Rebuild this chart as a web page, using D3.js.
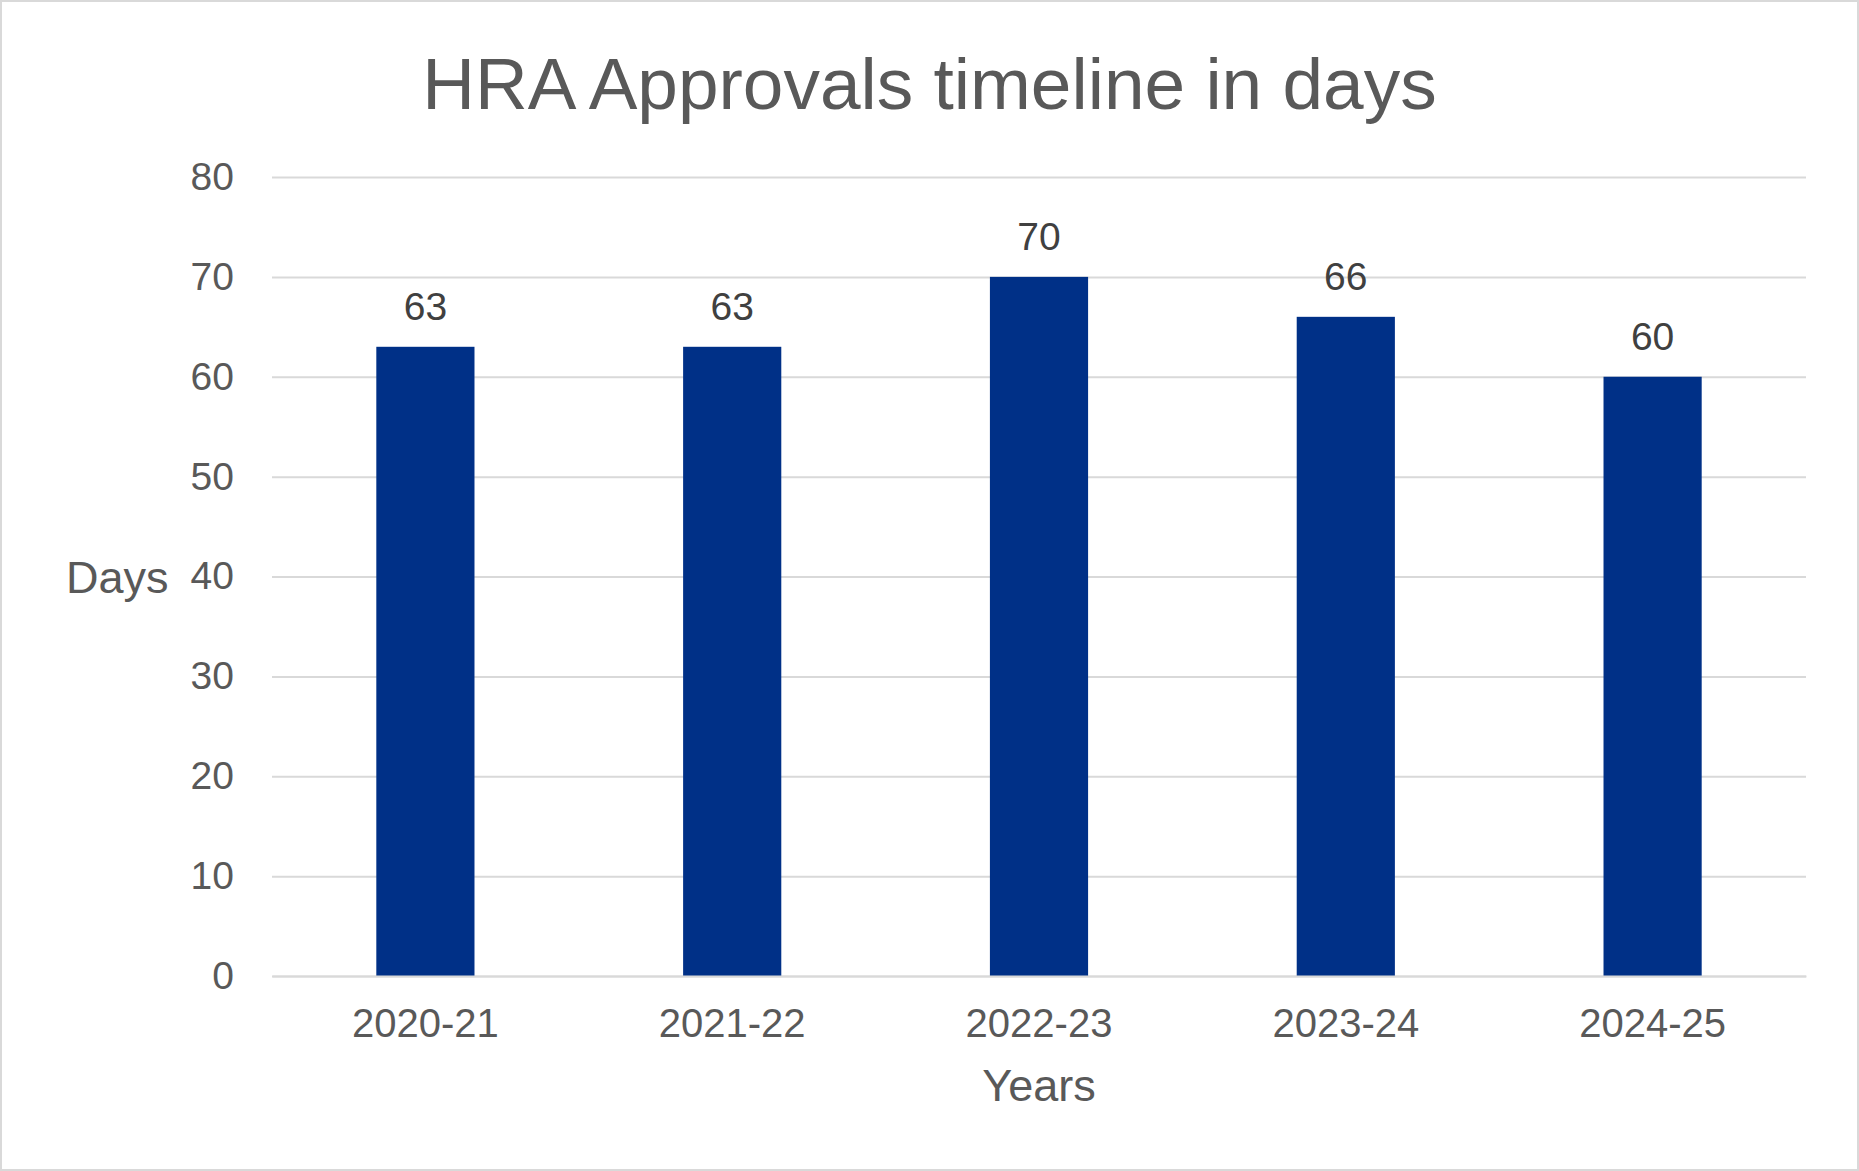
<!DOCTYPE html>
<html>
<head>
<meta charset="utf-8">
<script src="https://cdn.jsdelivr.net/npm/d3@7"></script>
<style>
  html, body { margin: 0; padding: 0; background: #fff; }
  svg { display: block; font-family: "Liberation Sans", Arial, sans-serif; }
</style>
</head>
<body>
<svg id="chart" width="1859" height="1171"></svg>
<script>
// data
var years = ['2020-21', '2021-22', '2022-23', '2023-24', '2024-25'];
var days = [63, 63, 70, 66, 60];
var yTicks = [0, 10, 20, 30, 40, 50, 60, 70, 80];

var svg = d3.select('#chart');
var width = +svg.attr('width');
var height = +svg.attr('height');
var margin = { top: 177, right: 53, bottom: 195, left: 272 };
var plotW = width - margin.left - margin.right;
var plotH = height - margin.top - margin.bottom;

// chart border
svg.append('rect')
  .attr('x', 1).attr('y', 1)
  .attr('width', width - 2).attr('height', height - 2)
  .attr('fill', '#fff')
  .attr('stroke', '#d9d9d9')
  .attr('stroke-width', 2);

var x = d3.scaleBand().domain(years).range([0, plotW]).padding(0);
var y = d3.scaleLinear().domain([0, 80]).range([plotH, 0]);
var barW = x.bandwidth() * 0.32;

var g = svg.append('g')
  .attr('transform', 'translate(' + margin.left + ',' + margin.top + ')');

// gridlines + y labels
var yAxis = g.append('g')
  .call(d3.axisLeft(y).tickValues(yTicks).tickSize(-plotW).tickPadding(38).tickFormat(d3.format('d')));
yAxis.select('.domain').remove();
yAxis.selectAll('line').attr('stroke', '#d9d9d9').attr('stroke-width', 2);
yAxis.selectAll('text')
  .attr('fill', '#595959')
  .style('font-size', '39px')
  .style('font-family', '"Liberation Sans", Arial, sans-serif');

// bars
g.selectAll('.bar')
  .data(days)
  .enter().append('rect')
  .attr('class', 'bar')
  .attr('x', function(d, i) { return x(years[i]) + (x.bandwidth() - barW) / 2; })
  .attr('y', function(d) { return y(d); })
  .attr('width', barW)
  .attr('height', function(d) { return plotH - y(d); })
  .attr('fill', '#003087');

// value labels
g.selectAll('.val')
  .data(days)
  .enter().append('text')
  .attr('class', 'val')
  .attr('x', function(d, i) { return x(years[i]) + x.bandwidth() / 2; })
  .attr('y', function(d) { return y(d) - 27; })
  .attr('text-anchor', 'middle')
  .attr('fill', '#404040')
  .style('font-size', '39px')
  .text(function(d) { return d; });

// x labels
var xAxis = g.append('g')
  .attr('transform', 'translate(0,' + plotH + ')')
  .call(d3.axisBottom(x).tickSize(0).tickPadding(33));
xAxis.select('.domain').attr('stroke', '#d9d9d9').attr('stroke-width', 2);
xAxis.selectAll('text')
  .attr('fill', '#595959')
  .style('font-size', '40px')
  .style('font-family', '"Liberation Sans", Arial, sans-serif');

// title
svg.append('text')
  .attr('x', width / 2)
  .attr('y', 109)
  .attr('text-anchor', 'middle')
  .attr('fill', '#595959')
  .style('font-size', '73px')
  .text('HRA Approvals timeline in days');

// axis titles
svg.append('text')
  .attr('x', 66)
  .attr('y', 593)
  .attr('fill', '#595959')
  .style('font-size', '45px')
  .text('Days');

svg.append('text')
  .attr('x', margin.left + plotW / 2)
  .attr('y', 1101)
  .attr('text-anchor', 'middle')
  .attr('fill', '#595959')
  .style('font-size', '45px')
  .text('Years');
</script>
</body>
</html>
